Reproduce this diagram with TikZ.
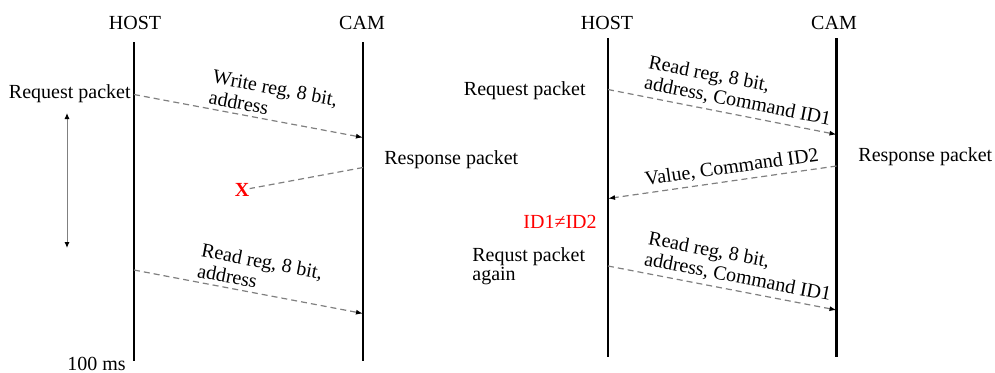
\documentclass[tikz,border=0pt]{standalone}
\usepackage{fontspec}
\setmainfont{Liberation Serif}
\usetikzlibrary{arrows.meta}

\tikzset{
  life/.style={line width=1.2pt},
  msg/.style={gray, line width=0.6pt, dash pattern=on 3pt off 2pt},
  tip/.style={-{Latex[length=3.5pt,width=2.5pt,black]}},
  txt/.style={font=\fontsize{10}{8.5}\selectfont, inner sep=0pt},
  lbl/.style={text=black, font=\fontsize{10}{10.5}\selectfont, align=left, inner sep=2pt, sloped}
}

\begin{document}
\begin{tikzpicture}[x=0.5pt,y=-0.5pt]
\useasboundingbox (0,0) rectangle (995,372);

% Lost response
\node[txt] (hostL) at (135,23) {HOST};
\node[txt] (camL) at (362,23) {CAM};
\coordinate (hostLtop) at (134,42);
\coordinate (hostLbot) at (134,361);
\coordinate (camLtop) at (363,42);
\coordinate (camLbot) at (363,361);
\draw[life] (hostLtop) -- (hostLbot);
\draw[life] (camLtop) -- (camLbot);

\node[txt, anchor=east] (reqL) at (131,93.5) {Request packet};
\node[txt, anchor=west] (respL) at (384,160) {Response packet};
\node[txt, anchor=north east] (msL) at (126,357) {100 ms};
\node[txt, red, font=\fontsize{10}{10}\bfseries] (lost) at (242,190) {X};

\coordinate (wrA) at (134,94.5);
\coordinate (wrB) at (363,137.5);
\coordinate (rsA) at (363,167.5);
\coordinate (rdA) at (134,270);
\coordinate (rdB) at (363,313.5);
\draw[msg, tip] (wrA) -- node[lbl, anchor=south west, pos=0.3] {Write reg, 8 bit,\\address} (wrB);
\draw[msg] (rsA) -- (lost);
\draw[msg, tip] (rdA) -- node[lbl, anchor=south west, pos=0.25] {Read reg, 8 bit,\\address} (rdB);

\coordinate (toA) at (67,113);
\coordinate (toB) at (67,248);
\draw[gray, line width=0.5pt, {Latex[length=3pt,width=2.5pt,black]}-{Latex[length=3pt,width=2.5pt,black]}] (toA) -- (toB);

% Wrong command ID
\node[txt] (hostR) at (607,23) {HOST};
\node[txt] (camR) at (834,23) {CAM};
\coordinate (hostRtop) at (608,38);
\coordinate (hostRbot) at (608,357);
\coordinate (camRtop) at (836.5,38);
\coordinate (camRbot) at (836.5,357);
\draw[life] (hostRtop) -- (hostRbot);
\draw[life] (camRtop) -- (camRbot);

\node[txt, anchor=east] (reqR) at (586,90.5) {Request packet};
\node[txt, anchor=west] (respR) at (858,157) {Response packet};
\node[txt, red, anchor=east] (idR) at (597,221.5) {ID1≠ID2};
\node[txt, align=left, anchor=north west] (againR) at (472,247) {Requst packet\\again};

\coordinate (rqA) at (608,89.5);
\coordinate (rqB) at (836.5,134.5);
\coordinate (vaA) at (836.5,166);
\coordinate (vaB) at (608,198.5);
\coordinate (agA) at (608,266);
\coordinate (agB) at (836.5,310);
\draw[msg, tip] (rqA) -- node[lbl, anchor=south west, pos=0.13] {Read reg, 8 bit,\\address, Command ID1} (rqB);
\draw[msg, tip] (vaA) -- node[lbl, above, pos=0.45] {Value, Command ID2} (vaB);
\draw[msg, tip] (agA) -- node[lbl, anchor=south west, pos=0.13] {Read reg, 8 bit,\\address, Command ID1} (agB);

\end{tikzpicture}
\end{document}
